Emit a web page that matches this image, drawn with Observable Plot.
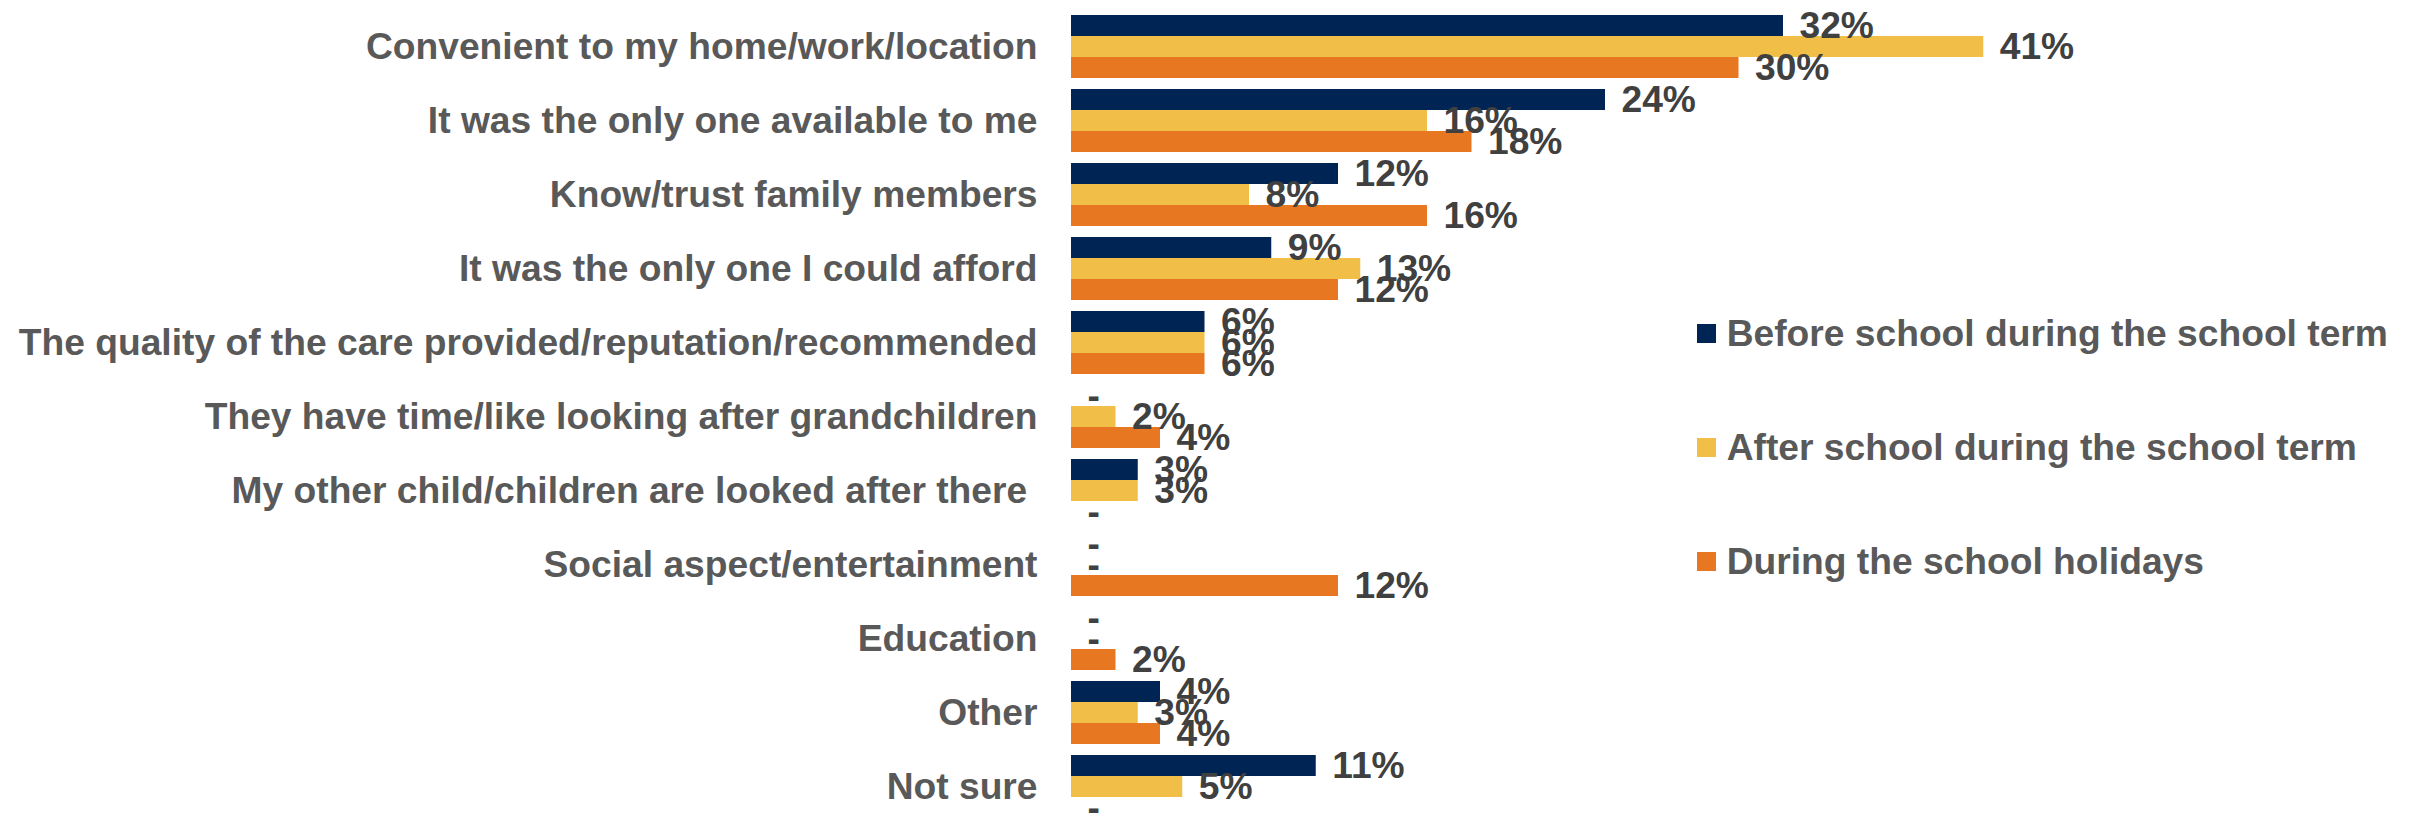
<!DOCTYPE html>
<html>
<head>
<meta charset="utf-8">
<script src="https://cdn.jsdelivr.net/npm/d3@7"></script>
<script src="https://cdn.jsdelivr.net/npm/@observablehq/plot@0.6"></script>
<style>
html, body { margin: 0; padding: 0; background: #fff; overflow: hidden; }
#wrap { position: relative; width: 2418px; height: 818px; overflow: hidden; }
#wrap svg text { white-space: pre; }
.legend { position: absolute; left: 1697px; top: 0; font-family: "Liberation Sans", Arial, sans-serif; font-weight: bold; font-size: 37.2px; color: #595959; }
.item { position: absolute; left: 0; height: 40px; display: flex; align-items: center; white-space: nowrap; }
.sw { width: 19px; height: 19px; margin-right: 10.7px; flex: none; }
</style>
</head>
<body>
<div id="wrap"></div>
<script>
const categories = [
  "Convenient to my home/work/location",
  "It was the only one available to me",
  "Know/trust family members",
  "It was the only one I could afford",
  "The quality of the care provided/reputation/recommended",
  "They have time/like looking after grandchildren",
  "My other child/children are looked after there ",
  "Social aspect/entertainment",
  "Education",
  "Other",
  "Not sure"
];
const series = [
  "Before school during the school term",
  "After school during the school term",
  "During the school holidays"
];
const beforeSchool = [32, 24, 12, 9, 6, 0, 3, 0, 0, 4, 11];
const afterSchool  = [41, 16, 8, 13, 6, 2, 3, 0, 0, 3, 5];
const holidays     = [30, 18, 16, 12, 6, 4, 0, 12, 2, 4, 0];
const colors = ["#002554", "#F1BE48", "#E87722"];

const values = [beforeSchool, afterSchool, holidays];
const data = categories.flatMap((c, i) =>
  series.map((s, j) => ({category: c, series: s, value: values[j][i]}))
);

const font = "'Liberation Sans', Arial, sans-serif";

const chart = Plot.plot({
  width: 2418,
  height: 829,
  marginLeft: 1071,
  marginRight: 12,
  marginTop: 5,
  marginBottom: 0,
  style: {fontFamily: font, background: "white", overflow: "visible"},
  x: {domain: [0, 60], axis: null},
  y: {domain: series, axis: null, padding: 0},
  fy: {domain: categories, axis: null, paddingInner: 0.143, paddingOuter: 0.0715},
  color: {domain: series, range: colors},
  facet: {data: data, y: "category"},
  marks: [
    Plot.barX(data, {x: "value", y: "series", fill: "series"}),
    Plot.text(data, {
      x: "value", y: "series",
      text: d => d.value === 0 ? "-" : d.value + "%",
      textAnchor: "start", dx: 16,
      fill: "#404040", fontSize: 37.2, fontWeight: "bold"
    }),
    Plot.text(data, {
      filter: d => d.series === series[0],
      text: "category",
      frameAnchor: "left", textAnchor: "end", dx: -34,
      fill: "#595959", fontSize: 37.2, fontWeight: "bold"
    })
  ]
});

const wrap = document.getElementById("wrap");
wrap.appendChild(chart);

const legend = document.createElement("div");
legend.className = "legend";
const centers = [333.5, 447.5, 561.5];
series.forEach((s, i) => {
  const item = document.createElement("div");
  item.className = "item";
  item.style.top = (centers[i] - 20) + "px";
  const sw = document.createElement("span");
  sw.className = "sw";
  sw.style.background = colors[i];
  const t = document.createElement("span");
  t.textContent = s;
  item.appendChild(sw);
  item.appendChild(t);
  legend.appendChild(item);
});
wrap.appendChild(legend);
</script>
</body>
</html>
